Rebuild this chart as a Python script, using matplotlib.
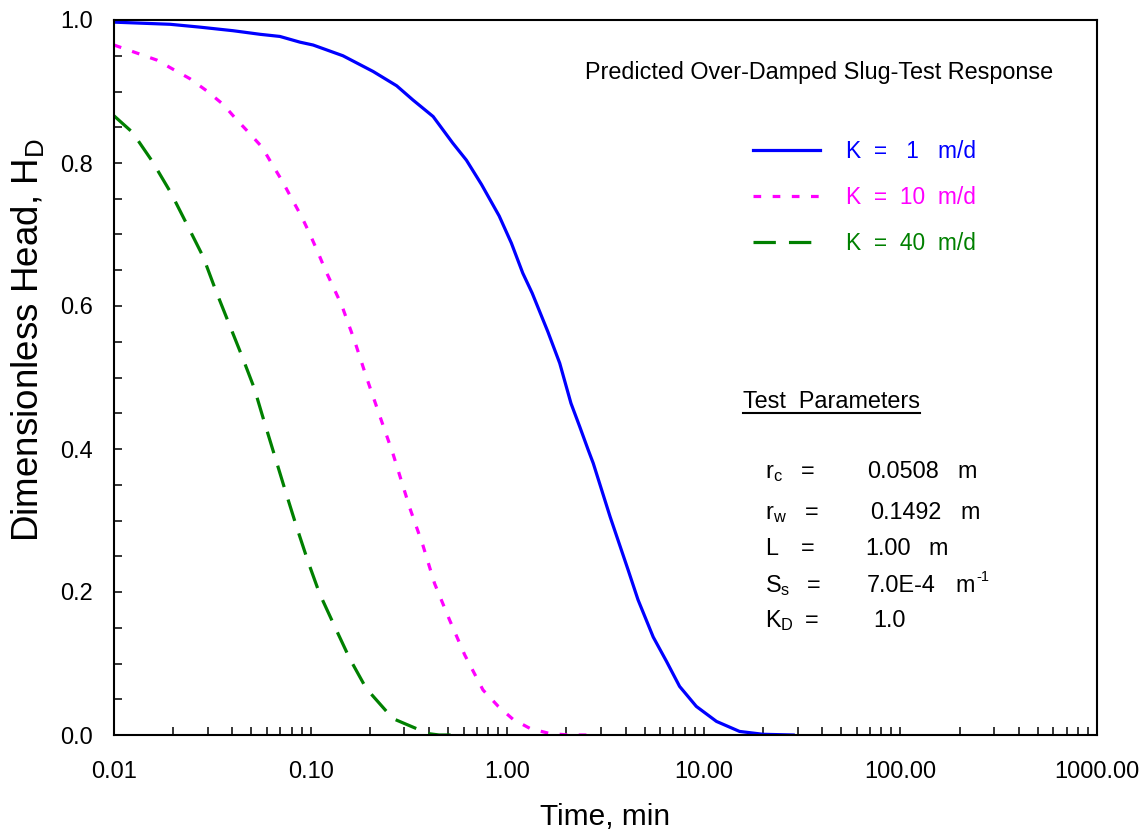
import matplotlib
matplotlib.use("Agg")
import matplotlib.pyplot as plt
from matplotlib.ticker import FixedLocator, LogLocator, FuncFormatter, NullFormatter
from matplotlib.lines import Line2D

# data
t_k1 = [0.01, 0.0193, 0.0274, 0.0404, 0.0553, 0.0698, 0.0883, 0.103, 0.146, 0.208,
        0.274, 0.332, 0.420, 0.528, 0.620, 0.740, 0.910, 1.05, 1.20, 1.34, 1.61,
        1.85, 2.11, 2.34, 2.58, 2.74, 3.34, 4.12, 4.63, 5.53, 6.46, 7.53, 9.16,
        11.6, 15.2, 20.0, 28.5]
h_k1 = [0.997, 0.994, 0.990, 0.985, 0.980, 0.977, 0.969, 0.965, 0.950, 0.928,
        0.908, 0.888, 0.865, 0.828, 0.804, 0.770, 0.726, 0.688, 0.646, 0.618, 0.564,
        0.520, 0.464, 0.431, 0.399, 0.380, 0.305, 0.231, 0.189, 0.137, 0.103, 0.068, 0.040,
        0.019, 0.005, 0.001, 0.0]

t_k10 = [0.01, 0.0130, 0.0165, 0.0200, 0.0243, 0.0296, 0.0359, 0.0416, 0.0487, 0.0567,
         0.0641, 0.0720, 0.0806, 0.0900, 0.0990, 0.109, 0.119, 0.144, 0.168, 0.192,
         0.225, 0.262, 0.320, 0.372, 0.427, 0.509, 0.608, 0.753, 0.901, 1.07, 1.31,
         1.65, 2.07, 2.60]
h_k10 = [0.965, 0.954, 0.944, 0.931, 0.918, 0.901, 0.882, 0.862, 0.842, 0.822,
         0.797, 0.774, 0.749, 0.725, 0.701, 0.675, 0.650, 0.601, 0.550, 0.501,
         0.446, 0.394, 0.317, 0.266, 0.212, 0.161, 0.112, 0.063, 0.040, 0.022, 0.009,
         0.002, 0.0, 0.0]

t_k40 = [0.01, 0.0124, 0.0156, 0.0195, 0.0236, 0.0284, 0.0329, 0.0381, 0.0446, 0.0517,
         0.0574, 0.0741, 0.0849, 0.0972, 0.111, 0.133, 0.158, 0.192, 0.262, 0.396,
         0.45, 0.60]
h_k40 = [0.866, 0.843, 0.803, 0.758, 0.713, 0.669, 0.622, 0.578, 0.531, 0.485,
         0.443, 0.343, 0.291, 0.242, 0.198, 0.151, 0.107, 0.065, 0.023, 0.002,
         0.0, 0.0]

labels = ["K  =   1   m/d", "K  =  10  m/d", "K  =  40  m/d"]
colors = ["#0000FF", "#FF00FF", "#008000"]

param_sym = ["r$_\\mathregular{c}$", "r$_\\mathregular{w}$", "L",
             "S$_\\mathregular{s}$", "K$_\\mathregular{D}$"]
param_val = ["0.0508", "0.1492", "1.00", "7.0E-4", "1.0"]
param_unit = ["m", "m", "m", "m", ""]

plt.rcParams["font.family"] = ["Liberation Sans", "DejaVu Sans"]
plt.rcParams["mathtext.fontset"] = "custom"
plt.rcParams["mathtext.rm"] = "Liberation Sans"

W, H = 1148, 833
fig = plt.figure(figsize=(W / 100, H / 100), dpi=100)
ax = fig.add_axes([114 / W, 1 - 735 / H, (1097 - 114) / W, (735 - 20) / H])


def fx(x, y):
    return x / W, 1 - y / H


l1, = ax.plot(t_k1, h_k1, color=colors[0], lw=2.3, solid_joinstyle="round")
l2, = ax.plot(t_k10, h_k10, color=colors[1], lw=2.3, dashes=(2.4, 3.6))
l3, = ax.plot(t_k40, h_k40, color=colors[2], lw=2.3, dashes=(7.0, 4.1))

ax.set_xscale("log")
ax.set_xlim(0.01, 1000)
ax.set_ylim(0, 1.0)

ax.xaxis.set_major_locator(LogLocator(base=10, numticks=20))
ax.xaxis.set_minor_locator(LogLocator(base=10, subs=range(2, 10), numticks=50))
ax.xaxis.set_major_formatter(FuncFormatter(lambda v, p: f"{v:.2f}"))
ax.xaxis.set_minor_formatter(NullFormatter())
ax.yaxis.set_major_locator(FixedLocator([0, 0.2, 0.4, 0.6, 0.8, 1.0]))
ax.yaxis.set_minor_locator(FixedLocator([i * 0.05 for i in range(21)]))
ax.yaxis.set_major_formatter(FuncFormatter(lambda v, p: f"{v:.1f}"))

ax.tick_params(which="both", direction="in", length=5.5, width=1.1, color="black")
ax.tick_params(axis="x", which="major", pad=19, labelsize=17)
ax.tick_params(axis="y", which="major", pad=15, labelsize=17)
for s in ax.spines.values():
    s.set_linewidth(1.5)

ax.set_xlabel("Time, min", fontsize=21.5)
ax.set_ylabel("Dimensionless Head, H$_\\mathregular{D}$", fontsize=26.5)
ax.xaxis.set_label_coords(0.5, -0.095)
ax.yaxis.set_label_coords(-0.068, 0.552)

leg = ax.legend([l1, l2, l3], labels, loc="upper left",
                bbox_to_anchor=fx(753, 140), bbox_transform=fig.transFigure,
                frameon=False, fontsize=16.4, handlelength=2.95, handletextpad=1.15,
                labelspacing=1.02, borderpad=0, borderaxespad=0, labelcolor="linecolor")

fig.text(*fx(585, 79), "Predicted Over-Damped Slug-Test Response", fontsize=16.8,
         va="baseline", ha="left")

tp = fig.text(*fx(743, 408), "Test  Parameters", fontsize=16.8, va="baseline", ha="left")

row_y = [478, 519, 555, 592, 627]
sym_x = [765, 765, 765, 765, 765]
eq_x = [801, 805, 801, 807, 805]
val_x = [867, 870, 865, 867, 873]
unit_x = [957, 960, 928, 955, 0]
for i, yb in enumerate(row_y):
    fig.text(*fx(sym_x[i], yb), param_sym[i], fontsize=16.8, va="baseline")
    fig.text(*fx(eq_x[i], yb), "=", fontsize=16.8, va="baseline")
    fig.text(*fx(val_x[i], yb), param_val[i], fontsize=16.8, va="baseline")
    if param_unit[i]:
        fig.text(*fx(unit_x[i], yb), param_unit[i], fontsize=16.8, va="baseline")
# superscript of the S_s unit (m^-1), drawn with a plain hyphen
fig.text(*fx(976, 581), "-1", fontsize=10.5, va="baseline")

fig.canvas.draw()
bb = tp.get_window_extent()
fig.add_artist(Line2D([bb.x0 / W, bb.x1 / W], [1 - 413 / H, 1 - 413 / H],
                      transform=fig.transFigure, color="black", lw=1.5))

fig.savefig("out.png", dpi=100)
